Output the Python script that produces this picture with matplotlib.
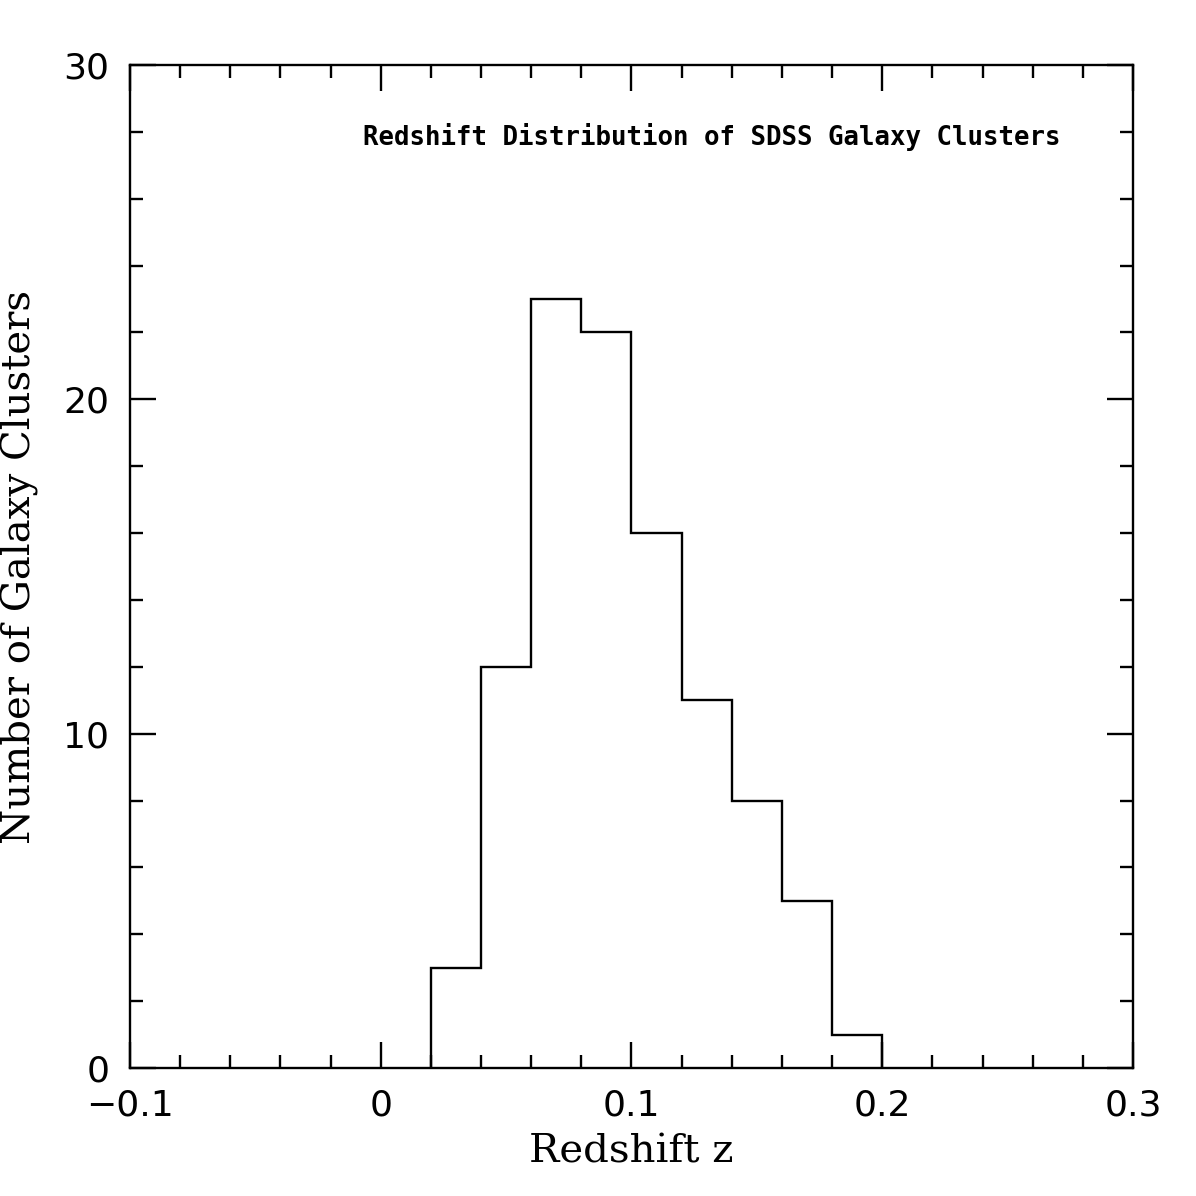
import numpy as np
import matplotlib
matplotlib.use("Agg")
import matplotlib.pyplot as plt
from matplotlib.ticker import MultipleLocator

# histogram data: bin edges of 0.02 in redshift, counts per bin
bin_edges = [0.02, 0.04, 0.06, 0.08, 0.10, 0.12, 0.14, 0.16, 0.18, 0.20]
counts = [3, 12, 23, 22, 16, 11, 8, 5, 1]

title_text = "Redshift Distribution of SDSS Galaxy Clusters"
x_label = "Redshift z"
y_label = "Number of Galaxy Clusters"

lw = 1.7
fig = plt.figure(figsize=(11.96, 11.96), dpi=100)
ax = fig.add_axes([0.1087, 0.107, 0.8386, 0.8387])

ax.stairs(counts, bin_edges, color="black", linewidth=lw)

ax.set_xlim(-0.1, 0.3)
ax.set_ylim(0, 30)
ax.xaxis.set_major_locator(MultipleLocator(0.1))
ax.xaxis.set_minor_locator(MultipleLocator(0.02))
ax.yaxis.set_major_locator(MultipleLocator(10))
ax.yaxis.set_minor_locator(MultipleLocator(2))
ax.xaxis.set_major_formatter(plt.FuncFormatter(lambda v, p: "0" if abs(v) < 1e-9 else ("\u22120.1" if v < 0 else f"{v:.1f}")))
ax.yaxis.set_major_formatter(plt.FuncFormatter(lambda v, p: f"{v:.0f}"))

ax.tick_params(which="both", direction="in", top=True, right=True, width=lw,
               labelsize=26)
ax.tick_params(which="major", length=19)
ax.tick_params(axis="x", which="major", pad=15)
ax.tick_params(axis="y", which="major", pad=15)
ax.tick_params(which="minor", length=9.5)
for s in ax.spines.values():
    s.set_linewidth(lw)

ax.set_xlabel(x_label, fontsize=29, fontfamily="DejaVu Serif", labelpad=8)
ax.set_ylabel(y_label, fontsize=29, fontfamily="DejaVu Serif")
ax.yaxis.set_label_coords(-0.091, 0.5)
ax.text(0.58, 0.928, title_text, transform=ax.transAxes, ha="center", va="center",
        fontsize=18.5, fontfamily="DejaVu Sans Mono", fontweight="bold")

fig.savefig("out.png", dpi=100)
